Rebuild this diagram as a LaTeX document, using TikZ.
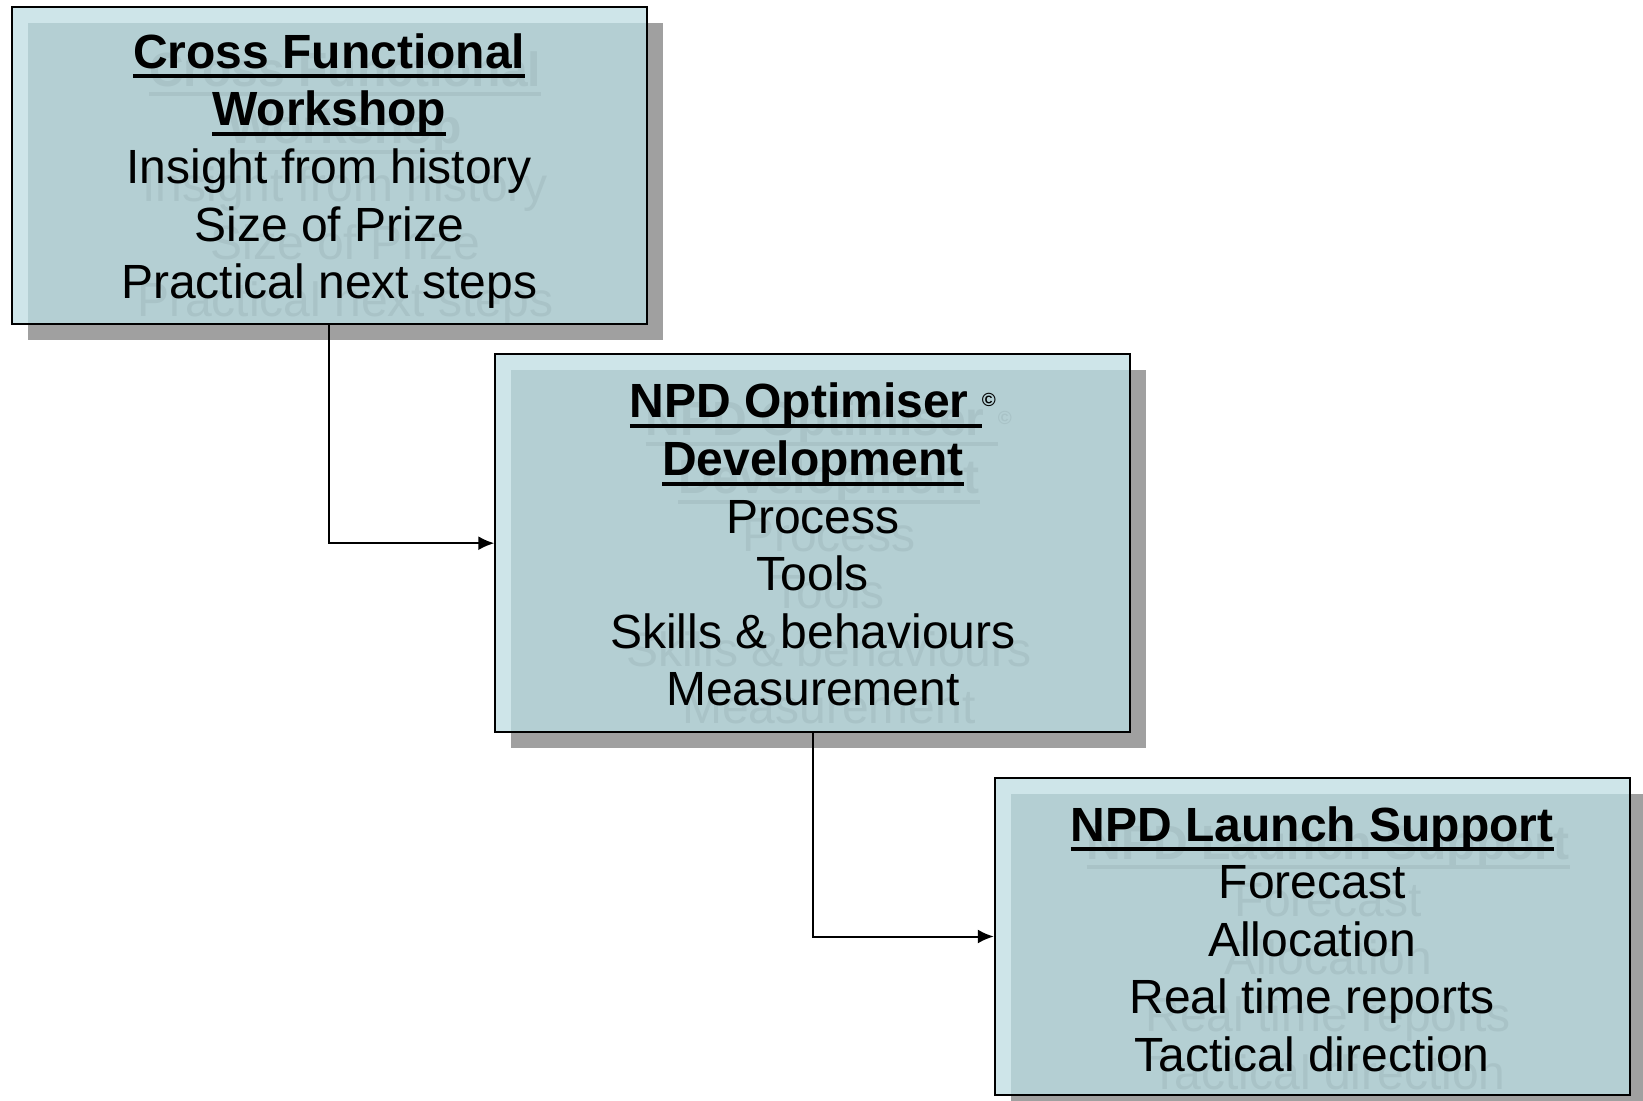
\documentclass[tikz,border=0pt]{standalone}
\usepackage{fontspec}
\setmainfont{Liberation Sans}
\usepackage{tikz}
\usetikzlibrary{arrows.meta,shapes,positioning,shadows}
\definecolor{npdlight}{RGB}{206,229,233}
\definecolor{npdfill}{RGB}{180,207,211}
\definecolor{npdghost}{RGB}{169,195,199}
\definecolor{npdshadow}{RGB}{160,160,160}
\newcommand{\ulbold}[1]{\setbox0\hbox{\textbf{#1}}\rlap{\rule[-5pt]{\wd0}{2pt}}\box0}
\tikzstyle{ghost} = [text=npdghost, align=center, inner sep=0pt, font=\fontsize{24}{28.8}\selectfont]
\tikzstyle{panel} = [rectangle, draw=black, line width=1pt, fill=npdfill, align=center, inner sep=0pt,
  minimum width=317.5pt, minimum height=158.5pt, font=\fontsize{24}{28.8}\selectfont,
  drop shadow={shadow xshift=8pt, shadow yshift=-8pt, fill=npdshadow, opacity=1},
  path picture={
    \fill[npdlight] (path picture bounding box.north west) rectangle ([yshift=-8pt]path picture bounding box.north east);
    \fill[npdlight] (path picture bounding box.north west) rectangle ([xshift=8pt]path picture bounding box.south west);
    \node[ghost] at ([shift={(8pt,-9pt)}]path picture bounding box.center) {#1};
  }]
\tikzstyle{link} = [line width=1pt, -{Latex[length=8pt,width=7pt]}]
\newcommand{\workshoptext}{\rule{0pt}{23pt}\ulbold{Cross Functional}\\\ulbold{Workshop}\\Insight from history\\Size of Prize\\Practical next steps}
\newcommand{\optimisertext}{\rule{0pt}{19pt}\ulbold{NPD Optimiser\ }\raisebox{5.5pt}{\fontsize{9.5}{10}\selectfont\textbf{©}}\\\ulbold{Development}\\Process\\Tools\\Skills \& behaviours\\Measurement}
\newcommand{\launchtext}{\rule{0pt}{20pt}\ulbold{NPD Launch Support}\\Forecast\\Allocation\\Real time reports\\Tactical direction}

\begin{document}
\begin{tikzpicture}[x=0.5pt, y=-0.5pt]
\fill[white] (0,0) rectangle (1643,1101);
\useasboundingbox (0,0) rectangle (1643,1101);

% Three stages
\node[panel=\workshoptext] (workshop) at (329.3,165.5) {\workshoptext};
\node[panel=\optimisertext, minimum height=189pt] (optimiser) at (812.8,543.2) {\optimisertext};
\node[panel=\launchtext] (launch) at (1312.3,936.5) {\launchtext};

\draw[link] (workshop.south) |- (optimiser.west);
\draw[link] (optimiser.south) |- (launch.west);
\end{tikzpicture}
\end{document}
